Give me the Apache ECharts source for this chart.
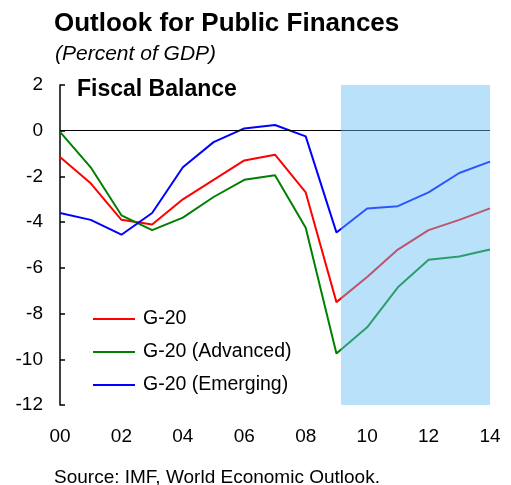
<!DOCTYPE html>
<html lang="en">
<head>
    <meta charset="UTF-8">
    <title>Outlook for Public Finances</title>
    <script src="https://cdn.jsdelivr.net/npm/echarts@6/dist/echarts.min.js"></script>
    <style>
        body { margin: 0; background: #fff; }
    </style>
</head>
<body>
<div id="main" style="width: 511px;height: 485px;"></div>
<script>
    // years 2000-2014, shown as two digits
    var years = [0, 1, 2, 3, 4, 5, 6, 7, 8, 9, 10, 11, 12, 13, 14];
    var g20 = [-1.15, -2.3, -3.9, -4.1, -3.0, -2.15, -1.3, -1.05, -2.7, -7.5, -6.4, -5.2, -4.35, -3.9, -3.4];
    var g20Advanced = [-0.05, -1.6, -3.7, -4.35, -3.8, -2.9, -2.15, -1.95, -4.25, -9.75, -8.6, -6.85, -5.65, -5.5, -5.2];
    var g20Emerging = [-3.6, -3.9, -4.55, -3.6, -1.6, -0.5, 0.1, 0.25, -0.25, -4.45, -3.4, -3.3, -2.7, -1.85, -1.35];
    var projStart = 9.15;
    var projEnd = 14;

    function pairs(vals) {
        return years.map(function (y, i) { return [y, vals[i]]; });
    }

    var font = '"Liberation Sans", Arial, sans-serif';
    var chart = echarts.init(document.getElementById('main'));

    // note: title/legend boxes carry 5px padding, lefts below account for it
    var option = {
        animation: false,
        title: [
            {
                text: 'Outlook for Public Finances',
                left: 49, top: 6,
                textStyle: {fontFamily: font, fontSize: 26, fontWeight: 'bold', color: '#000'}
            },
            {
                text: '(Percent of GDP)',
                left: 50, top: 39,
                textStyle: {fontFamily: font, fontSize: 21, fontStyle: 'italic', fontWeight: 'normal', color: '#000'}
            },
            {
                text: 'Fiscal Balance',
                left: 72, top: 73,
                textStyle: {fontFamily: font, fontSize: 23, fontWeight: 'bold', color: '#000'}
            },
            {
                text: 'Source: IMF, World Economic Outlook.',
                left: 49, top: 463,
                textStyle: {fontFamily: font, fontSize: 19, fontWeight: 'normal', color: '#000'}
            }
        ],
        legend: {
            data: ['G-20', 'G-20 (Advanced)', 'G-20 (Emerging)'],
            orient: 'vertical',
            left: 88, top: 303,
            icon: 'rect',
            itemWidth: 42, itemHeight: 2,
            itemGap: 11,
            textStyle: {fontFamily: font, fontSize: 19.5, color: '#000', lineHeight: 22, padding: [0, 0, 0, 3]}
        },
        grid: {left: 60, right: 21, top: 85, bottom: 80},
        xAxis: {
            type: 'value',
            min: 0, max: 14, interval: 2,
            axisLine: {show: false},
            axisTick: {show: false},
            splitLine: {show: false},
            axisLabel: {
                fontFamily: font, fontSize: 19, color: '#000', margin: 22,
                formatter: function (v) { return (v < 10 ? '0' : '') + v; }
            }
        },
        yAxis: {
            type: 'value',
            min: -12, max: 2, interval: 2,
            axisLine: {show: true, lineStyle: {color: '#000', width: 1.5}},
            axisTick: {show: true, inside: true, length: 5, lineStyle: {color: '#000', width: 1.5}},
            splitLine: {show: false},
            axisLabel: {fontFamily: font, fontSize: 19, color: '#000', margin: 17}
        },
        series: [
            {
                name: 'G-20', type: 'line', symbol: 'none', z: 3,
                lineStyle: {color: '#ff0000', width: 2}, itemStyle: {color: '#ff0000'},
                data: pairs(g20),
                markLine: {
                    silent: true, symbol: 'none', label: {show: false},
                    lineStyle: {color: '#000', width: 1, type: 'solid'},
                    data: [{yAxis: 0}]
                }
            },
            {
                name: 'G-20 (Advanced)', type: 'line', symbol: 'none', z: 3,
                lineStyle: {color: '#008000', width: 2}, itemStyle: {color: '#008000'},
                data: pairs(g20Advanced)
            },
            {
                name: 'G-20 (Emerging)', type: 'line', symbol: 'none', z: 3,
                lineStyle: {color: '#0000ff', width: 2}, itemStyle: {color: '#0000ff'},
                data: pairs(g20Emerging)
            },
            {
                // translucent projection band laid over the lines
                name: 'proj', type: 'line', symbol: 'none', z: 10, silent: true,
                lineStyle: {opacity: 0},
                data: [[projStart, 0], [projEnd, 0]],
                markArea: {
                    silent: true, z: 10,
                    itemStyle: {color: 'rgba(100,190,245,0.45)'},
                    data: [[{xAxis: projStart, yAxis: 2}, {xAxis: projEnd, yAxis: -12}]]
                }
            }
        ]
    };
    chart.setOption(option);
</script>
</body>
</html>
